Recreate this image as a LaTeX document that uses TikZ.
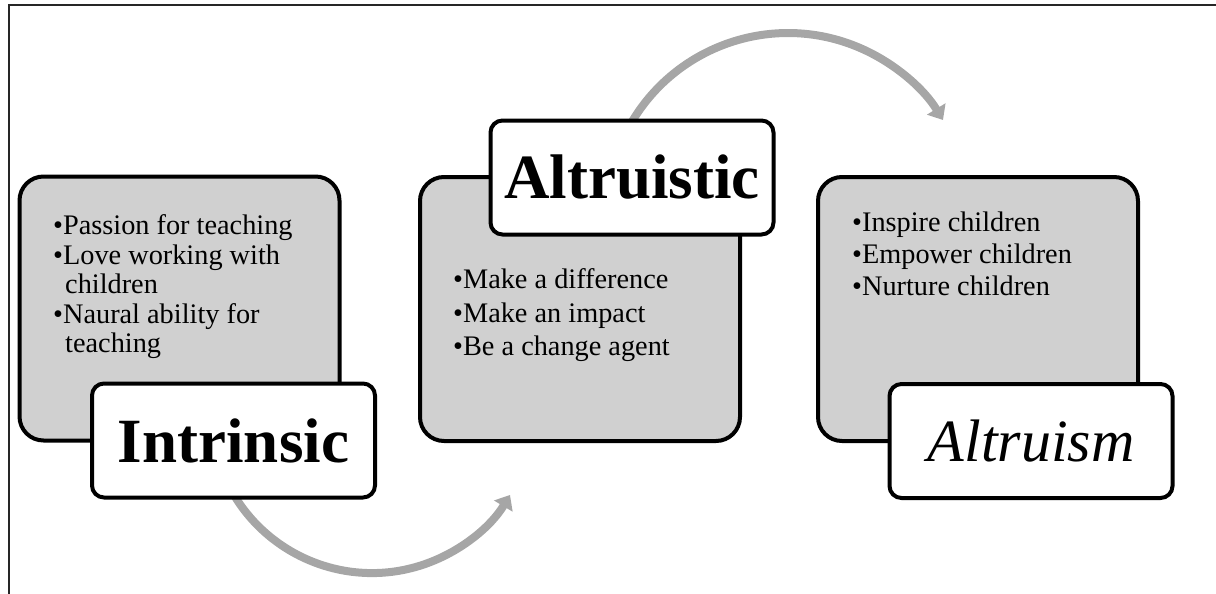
\documentclass[tikz,border=0pt]{standalone}
\usepackage{fontspec}
\setmainfont{Liberation Serif}
\usetikzlibrary{arrows.meta}
\definecolor{boxgray}{RGB}{208,208,208}
\definecolor{arrowgray}{RGB}{166,166,166}
\tikzset{
  graybox/.style={draw=black, line width=4pt, fill=boxgray, rounded corners=24pt, minimum width=320pt, minimum height=264pt, inner sep=0pt},
  titlebox/.style={draw=black, line width=4pt, fill=white, rounded corners=12pt, minimum width=283pt, minimum height=114pt, inner sep=0pt},
  itemtext/.style={anchor=base west, inner sep=0pt, font=\fontsize{28.3}{30}\selectfont},
  flowarrow/.style={draw=arrowgray, line width=8pt, -{Triangle[width=21pt,length=13pt]}},
  frameline/.style={draw=black!85, line width=1.8pt}
}
\begin{document}
\begin{tikzpicture}[x=1pt,y=-1pt]
\useasboundingbox (0,0) rectangle (1216,594);
% frame
\coordinate (fb) at (9,594);
\coordinate (ft) at (9,5);
\coordinate (fr) at (1216,5);
\draw[frameline] (fb) -- (ft) -- (fr);

% arrows (behind boxes)
\coordinate (a1s) at (220.7,467.1);
\draw[flowarrow] (a1s) arc[start angle=160, end angle=31, radius=161];
\coordinate (a2s) at (623.4,137.9);
\draw[flowarrow] (a2s) arc[start angle=205, end angle=328.6, radius=181.6];

% gray boxes
\node[graybox] (gL) at (179.5,308.5) {};
\node[graybox] (gM) at (580,309) {};
\node[graybox] (gR) at (978,309) {};

% left items
\node[itemtext] (l1) at (53,234) {•Passion for teaching};
\node[itemtext] (l2) at (53,264) {•Love working with};
\node[itemtext] (l3) at (65,293) {children};
\node[itemtext] (l4) at (53,323) {•Naural ability for};
\node[itemtext] (l5) at (65,352) {teaching};

% middle items
\node[itemtext] (m1) at (453,288) {•Make a difference};
\node[itemtext] (m2) at (453,322) {•Make an impact};
\node[itemtext] (m3) at (453,355) {•Be a change agent};

% right items
\node[itemtext] (r1) at (852,231) {•Inspire children};
\node[itemtext] (r2) at (852,263) {•Empower children};
\node[itemtext] (r3) at (852,295) {•Nurture children};

% title boxes
\node[titlebox, font=\fontsize{63}{63}\selectfont\bfseries] (tL) at (233.5,440.5) {Intrinsic};
\node[titlebox, font=\fontsize{63}{63}\selectfont\bfseries] (tM) at (632,177.5) {Altruistic};
\node[titlebox, font=\fontsize{60}{60}\selectfont\itshape] (tR) at (1031,441) {Altruism};
\end{tikzpicture}
\end{document}
